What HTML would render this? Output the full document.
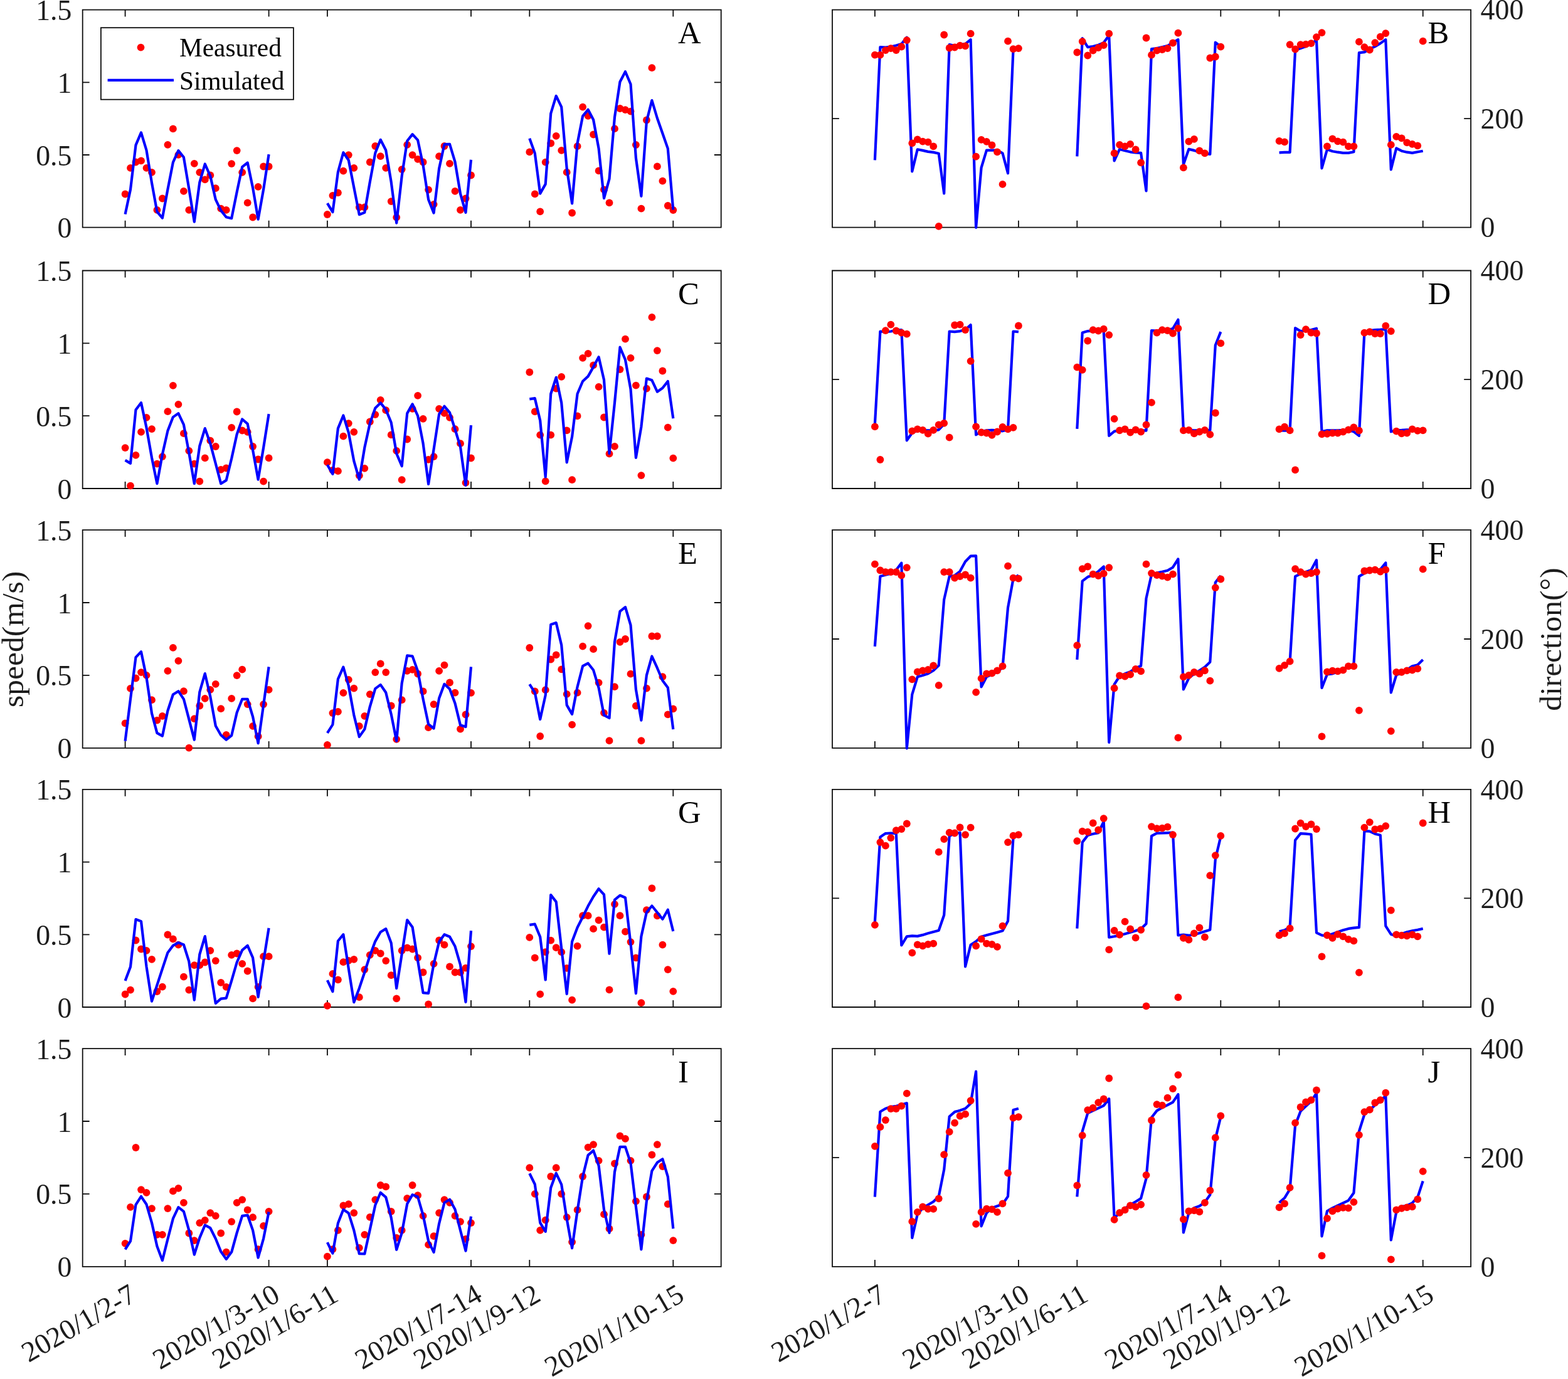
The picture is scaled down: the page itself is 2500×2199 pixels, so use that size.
<!DOCTYPE html>
<html lang="en"><head><meta charset="utf-8"><title>Measured vs simulated speed and direction</title>
<style>html,body{margin:0;padding:0;background:#fff}body{width:2500px;height:2199px;overflow:hidden}svg{display:block}text{font-family:'Liberation Serif','DejaVu Serif',serif;fill:#1c1c1c}.tl{font-size:45.8px}.lab{font-size:49.5px}.let{font-size:50.7px;fill:#000}.leg{font-size:41.3px;fill:#000}.ax{fill:none;stroke:#0d0d0d;stroke-width:1.8}.ln{fill:none;stroke:#0000ff;stroke-width:4.2;stroke-linejoin:round;stroke-linecap:butt}.dt{fill:#ff0000}</style></head><body>
<svg xmlns="http://www.w3.org/2000/svg" width="2500" height="2199" viewBox="0 0 2500 2199">
<rect width="2500" height="2199" fill="#fff"/>
<g id="panel-A"><path class="ax" d="M131.7 15.7H1149.7V362.7H131.7ZM199.6 362.7v-10.9M199.6 15.7v10.9M428.6 362.7v-10.9M428.6 15.7v10.9M521.9 362.7v-10.9M521.9 15.7v10.9M751 362.7v-10.9M751 15.7v10.9M844.3 362.7v-10.9M844.3 15.7v10.9M1073.3 362.7v-10.9M1073.3 15.7v10.9M131.7 247h10.9M1149.7 247h-10.9M131.7 131.3h10.9M1149.7 131.3h-10.9"/><g class="dt"><circle cx="199.6" cy="309.5" r="5.9"/><circle cx="208" cy="267.9" r="5.9"/><circle cx="216.5" cy="258.5" r="5.9"/><circle cx="225" cy="256.4" r="5.9"/><circle cx="233.5" cy="267.9" r="5.9"/><circle cx="242" cy="274.8" r="5.9"/><circle cx="250.4" cy="334.9" r="5.9"/><circle cx="258.9" cy="316.5" r="5.9"/><circle cx="267.4" cy="230.8" r="5.9"/><circle cx="275.9" cy="205.4" r="5.9"/><circle cx="284.4" cy="246.8" r="5.9"/><circle cx="292.9" cy="304.9" r="5.9"/><circle cx="301.3" cy="334.9" r="5.9"/><circle cx="309.8" cy="260.8" r="5.9"/><circle cx="318.3" cy="274.8" r="5.9"/><circle cx="326.8" cy="286.4" r="5.9"/><circle cx="335.3" cy="279.5" r="5.9"/><circle cx="343.8" cy="300.2" r="5.9"/><circle cx="352.2" cy="332.6" r="5.9"/><circle cx="360.7" cy="334.9" r="5.9"/><circle cx="369.2" cy="261.1" r="5.9"/><circle cx="377.7" cy="240.1" r="5.9"/><circle cx="386.2" cy="274.8" r="5.9"/><circle cx="394.7" cy="323.3" r="5.9"/><circle cx="403.1" cy="346.5" r="5.9"/><circle cx="411.6" cy="297.9" r="5.9"/><circle cx="420.1" cy="265.5" r="5.9"/><circle cx="428.6" cy="265.5" r="5.9"/><circle cx="521.9" cy="342" r="5.9"/><circle cx="530.4" cy="311.8" r="5.9"/><circle cx="538.9" cy="307.3" r="5.9"/><circle cx="547.4" cy="272.6" r="5.9"/><circle cx="555.8" cy="247.1" r="5.9"/><circle cx="564.3" cy="267.9" r="5.9"/><circle cx="572.8" cy="330.5" r="5.9"/><circle cx="581.3" cy="330.5" r="5.9"/><circle cx="589.8" cy="258.5" r="5.9"/><circle cx="598.3" cy="233" r="5.9"/><circle cx="606.7" cy="249.2" r="5.9"/><circle cx="615.2" cy="267.9" r="5.9"/><circle cx="623.7" cy="321.1" r="5.9"/><circle cx="632.2" cy="346.6" r="5.9"/><circle cx="640.7" cy="270.1" r="5.9"/><circle cx="649.2" cy="230.8" r="5.9"/><circle cx="657.6" cy="247.1" r="5.9"/><circle cx="666.1" cy="253.9" r="5.9"/><circle cx="674.6" cy="258.5" r="5.9"/><circle cx="683.1" cy="302.6" r="5.9"/><circle cx="691.6" cy="325.8" r="5.9"/><circle cx="700.1" cy="249.2" r="5.9"/><circle cx="708.5" cy="233" r="5.9"/><circle cx="717" cy="260.8" r="5.9"/><circle cx="725.5" cy="304.9" r="5.9"/><circle cx="734" cy="334.9" r="5.9"/><circle cx="742.5" cy="316.5" r="5.9"/><circle cx="751" cy="279.5" r="5.9"/><circle cx="844.3" cy="242.4" r="5.9"/><circle cx="852.8" cy="309.4" r="5.9"/><circle cx="861.2" cy="337.3" r="5.9"/><circle cx="869.7" cy="258.6" r="5.9"/><circle cx="878.2" cy="228.5" r="5.9"/><circle cx="886.7" cy="216.8" r="5.9"/><circle cx="895.2" cy="239.9" r="5.9"/><circle cx="903.7" cy="274.7" r="5.9"/><circle cx="912.1" cy="339.5" r="5.9"/><circle cx="920.6" cy="233.2" r="5.9"/><circle cx="929.1" cy="170.6" r="5.9"/><circle cx="937.6" cy="184.8" r="5.9"/><circle cx="946.1" cy="214.5" r="5.9"/><circle cx="954.6" cy="272.4" r="5.9"/><circle cx="963" cy="302.4" r="5.9"/><circle cx="971.5" cy="323.3" r="5.9"/><circle cx="980" cy="205.2" r="5.9"/><circle cx="988.5" cy="173" r="5.9"/><circle cx="997" cy="175.1" r="5.9"/><circle cx="1005.5" cy="177.6" r="5.9"/><circle cx="1013.9" cy="231" r="5.9"/><circle cx="1022.4" cy="332.6" r="5.9"/><circle cx="1030.9" cy="191.5" r="5.9"/><circle cx="1039.4" cy="108.2" r="5.9"/><circle cx="1047.9" cy="265.4" r="5.9"/><circle cx="1056.4" cy="288.6" r="5.9"/><circle cx="1064.8" cy="328" r="5.9"/><circle cx="1073.3" cy="335" r="5.9"/></g><polyline class="ln" points="199.6,341.6 208,302.2 216.5,231.4 225,211.4 233.5,239.5 242,291.5 250.4,337.6 258.9,347.6 267.4,302.2 275.9,258.8 284.4,240.1 292.9,250.8 301.3,300.8 309.8,353.6 318.3,290.8 326.8,261.5 335.3,280.8 343.8,318.2 352.2,335.6 360.7,346.2 369.2,348.2 377.7,306.2 386.2,266.1 394.7,259.5 403.1,299.5 411.6,349.6 420.1,302.2 428.6,246.1"/><polyline class="ln" points="521.9,324.2 530.4,338.2 538.9,274.2 547.4,243.2 555.8,255.5 564.3,298.8 572.8,342.2 581.3,338.9 589.8,290.2 598.3,244.1 606.7,222.8 615.2,239.5 623.7,290.2 632.2,355.6 640.7,280.8 649.2,224.8 657.6,214.1 666.1,223.4 674.6,263.5 683.1,318.2 691.6,339.6 700.1,268.8 708.5,230.1 717,229.8 725.5,258.1 734,308.9 742.5,338.9 751,254.8"/><polyline class="ln" points="844.3,220.7 852.8,244.4 861.2,308.6 869.7,293.6 878.2,181 886.7,152.9 895.2,170.6 903.7,268.6 912.1,324.5 920.6,228.5 929.1,185.1 937.6,174.8 946.1,191 954.6,236.9 963,316.1 971.5,285.3 980,186.8 988.5,130.4 997,114.2 1005.5,134.2 1013.9,251.9 1022.4,312.8 1030.9,193.5 1039.4,160.1 1047.9,188.5 1056.4,212.7 1064.8,236.9 1073.3,334.5"/><text class="tl" x="114.4" y="379.2" text-anchor="end">0</text><text class="tl" x="114.4" y="263.5" text-anchor="end">0.5</text><text class="tl" x="114.4" y="147.8" text-anchor="end">1</text><text class="tl" x="114.4" y="32.1" text-anchor="end">1.5</text><text class="let" x="1081.1" y="69.2">A</text></g>
<g id="panel-B"><path class="ax" d="M1327 15.7H2345.1V362.7H1327ZM1394.9 362.7v-10.9M1394.9 15.7v10.9M1623.9 362.7v-10.9M1623.9 15.7v10.9M1717.3 362.7v-10.9M1717.3 15.7v10.9M1946.3 362.7v-10.9M1946.3 15.7v10.9M2039.6 362.7v-10.9M2039.6 15.7v10.9M2268.7 362.7v-10.9M2268.7 15.7v10.9M1327 189.2h10.9M2345.1 189.2h-10.9"/><polyline class="ln" points="1394.9,255.3 1403.4,75.1 1411.9,75.7 1420.3,74.5 1428.8,72.5 1437.3,70.1 1445.8,59.7 1454.3,273.3 1462.8,238.3 1471.2,239.9 1479.7,241.9 1488.2,242.9 1496.7,244.7 1505.2,308.4 1513.7,71.1 1522.1,73.1 1530.6,71.1 1539.1,70.1 1547.6,63.1 1556.1,362.8 1564.6,267.3 1573,239.7 1581.5,239.7 1590,239.7 1598.5,244.3 1607,276.3 1615.5,79.1 1623.9,77.1"/><polyline class="ln" points="1717.3,249.3 1725.7,61.1 1734.2,75.1 1742.7,74.1 1751.2,71.7 1759.7,68.1 1768.2,56.5 1776.6,256.3 1785.1,237.9 1793.6,240.3 1802.1,242.3 1810.6,243.3 1819.1,243.9 1827.5,304.4 1836,78.1 1844.5,77.1 1853,75.1 1861.5,73.1 1870,68.1 1878.4,63.1 1886.9,262.3 1895.4,237.9 1903.9,239.9 1912.4,242.3 1920.9,244.7 1929.3,245.9 1937.8,67.7 1946.3,74.1"/><polyline class="ln" points="2039.6,243.3 2048.1,242.9 2056.6,242.9 2065.1,80.1 2073.6,77.1 2082,74.1 2090.5,70.1 2099,63.7 2107.5,268.3 2116,238.3 2124.5,241.3 2132.9,242.7 2141.4,243.9 2149.9,243.9 2158.4,242.3 2166.9,84.1 2175.4,83.1 2183.8,78.1 2192.3,74.1 2200.8,69.1 2209.3,63.1 2217.8,270.3 2226.3,236.3 2234.7,240.7 2243.2,242.7 2251.7,243.9 2260.2,242.3 2268.7,240.7"/><g class="dt"><circle cx="1394.9" cy="87.7" r="5.9"/><circle cx="1403.4" cy="87.7" r="5.9"/><circle cx="1411.9" cy="80.1" r="5.9"/><circle cx="1420.3" cy="77.1" r="5.9"/><circle cx="1428.8" cy="80.1" r="5.9"/><circle cx="1437.3" cy="74.5" r="5.9"/><circle cx="1445.8" cy="64.1" r="5.9"/><circle cx="1454.3" cy="228.3" r="5.9"/><circle cx="1462.8" cy="222.3" r="5.9"/><circle cx="1471.2" cy="225.7" r="5.9"/><circle cx="1479.7" cy="226.7" r="5.9"/><circle cx="1488.2" cy="233.3" r="5.9"/><circle cx="1496.7" cy="360.8" r="5.9"/><circle cx="1505.2" cy="55.5" r="5.9"/><circle cx="1513.7" cy="76.5" r="5.9"/><circle cx="1522.1" cy="75.5" r="5.9"/><circle cx="1530.6" cy="72.7" r="5.9"/><circle cx="1539.1" cy="73.3" r="5.9"/><circle cx="1547.6" cy="53.7" r="5.9"/><circle cx="1556.1" cy="249.7" r="5.9"/><circle cx="1564.6" cy="222.9" r="5.9"/><circle cx="1573" cy="225.9" r="5.9"/><circle cx="1581.5" cy="231.5" r="5.9"/><circle cx="1590" cy="242.3" r="5.9"/><circle cx="1598.5" cy="293.9" r="5.9"/><circle cx="1607" cy="65.7" r="5.9"/><circle cx="1615.5" cy="78.1" r="5.9"/><circle cx="1623.9" cy="77.1" r="5.9"/><circle cx="1717.3" cy="83.5" r="5.9"/><circle cx="1725.7" cy="66.1" r="5.9"/><circle cx="1734.2" cy="88.5" r="5.9"/><circle cx="1742.7" cy="80.5" r="5.9"/><circle cx="1751.2" cy="76.1" r="5.9"/><circle cx="1759.7" cy="72.1" r="5.9"/><circle cx="1768.2" cy="53.7" r="5.9"/><circle cx="1776.6" cy="244.3" r="5.9"/><circle cx="1785.1" cy="230.9" r="5.9"/><circle cx="1793.6" cy="233.3" r="5.9"/><circle cx="1802.1" cy="229.9" r="5.9"/><circle cx="1810.6" cy="238.3" r="5.9"/><circle cx="1819.1" cy="259.3" r="5.9"/><circle cx="1827.5" cy="60.5" r="5.9"/><circle cx="1836" cy="87.7" r="5.9"/><circle cx="1844.5" cy="80.7" r="5.9"/><circle cx="1853" cy="79.1" r="5.9"/><circle cx="1861.5" cy="77.1" r="5.9"/><circle cx="1870" cy="68.5" r="5.9"/><circle cx="1878.4" cy="52.7" r="5.9"/><circle cx="1886.9" cy="267.3" r="5.9"/><circle cx="1895.4" cy="225.7" r="5.9"/><circle cx="1903.9" cy="221.9" r="5.9"/><circle cx="1912.4" cy="240.3" r="5.9"/><circle cx="1920.9" cy="244.3" r="5.9"/><circle cx="1929.3" cy="92.5" r="5.9"/><circle cx="1937.8" cy="90.5" r="5.9"/><circle cx="1946.3" cy="74.7" r="5.9"/><circle cx="2039.6" cy="224.9" r="5.9"/><circle cx="2048.1" cy="226.3" r="5.9"/><circle cx="2056.6" cy="71.1" r="5.9"/><circle cx="2065.1" cy="78.5" r="5.9"/><circle cx="2073.6" cy="71.1" r="5.9"/><circle cx="2082" cy="70.7" r="5.9"/><circle cx="2090.5" cy="69.1" r="5.9"/><circle cx="2099" cy="59.1" r="5.9"/><circle cx="2107.5" cy="52.1" r="5.9"/><circle cx="2116" cy="233.3" r="5.9"/><circle cx="2124.5" cy="221.3" r="5.9"/><circle cx="2132.9" cy="225.3" r="5.9"/><circle cx="2141.4" cy="226.7" r="5.9"/><circle cx="2149.9" cy="233.3" r="5.9"/><circle cx="2158.4" cy="233.3" r="5.9"/><circle cx="2166.9" cy="66.7" r="5.9"/><circle cx="2175.4" cy="75.1" r="5.9"/><circle cx="2183.8" cy="79.5" r="5.9"/><circle cx="2192.3" cy="68.1" r="5.9"/><circle cx="2200.8" cy="58.7" r="5.9"/><circle cx="2209.3" cy="53.1" r="5.9"/><circle cx="2217.8" cy="230.9" r="5.9"/><circle cx="2226.3" cy="217.8" r="5.9"/><circle cx="2234.7" cy="220.3" r="5.9"/><circle cx="2243.2" cy="227.3" r="5.9"/><circle cx="2251.7" cy="229.9" r="5.9"/><circle cx="2260.2" cy="232.3" r="5.9"/><circle cx="2268.7" cy="65.7" r="5.9"/></g><text class="tl" x="2360.6" y="378.4">0</text><text class="tl" x="2360.6" y="204.9">200</text><text class="tl" x="2360.6" y="31.3">400</text><text class="let" x="2276.4" y="69.2">B</text></g>
<g id="panel-C"><path class="ax" d="M131.7 431.5H1149.7V779H131.7ZM199.6 779v-10.9M199.6 431.5v10.9M428.6 779v-10.9M428.6 431.5v10.9M521.9 779v-10.9M521.9 431.5v10.9M751 779v-10.9M751 431.5v10.9M844.3 779v-10.9M844.3 431.5v10.9M1073.3 779v-10.9M1073.3 431.5v10.9M131.7 663.2h10.9M1149.7 663.2h-10.9M131.7 547.3h10.9M1149.7 547.3h-10.9"/><g class="dt"><circle cx="199.6" cy="714.1" r="5.9"/><circle cx="208" cy="774.6" r="5.9"/><circle cx="216.5" cy="725.9" r="5.9"/><circle cx="225" cy="688.9" r="5.9"/><circle cx="233.5" cy="665.8" r="5.9"/><circle cx="242" cy="684.1" r="5.9"/><circle cx="250.4" cy="739.6" r="5.9"/><circle cx="258.9" cy="728.1" r="5.9"/><circle cx="267.4" cy="656.2" r="5.9"/><circle cx="275.9" cy="614.8" r="5.9"/><circle cx="284.4" cy="644.8" r="5.9"/><circle cx="292.9" cy="691.2" r="5.9"/><circle cx="301.3" cy="718.9" r="5.9"/><circle cx="309.8" cy="739.6" r="5.9"/><circle cx="318.3" cy="767.6" r="5.9"/><circle cx="326.8" cy="730.4" r="5.9"/><circle cx="335.3" cy="702.6" r="5.9"/><circle cx="343.8" cy="712" r="5.9"/><circle cx="352.2" cy="748.9" r="5.9"/><circle cx="360.7" cy="746.5" r="5.9"/><circle cx="369.2" cy="681.9" r="5.9"/><circle cx="377.7" cy="656.5" r="5.9"/><circle cx="386.2" cy="686.5" r="5.9"/><circle cx="394.7" cy="688.9" r="5.9"/><circle cx="403.1" cy="712" r="5.9"/><circle cx="411.6" cy="732.5" r="5.9"/><circle cx="420.1" cy="767.6" r="5.9"/><circle cx="428.6" cy="730.4" r="5.9"/><circle cx="521.9" cy="737.2" r="5.9"/><circle cx="530.4" cy="749.9" r="5.9"/><circle cx="538.9" cy="751.2" r="5.9"/><circle cx="547.4" cy="695.6" r="5.9"/><circle cx="555.8" cy="675.1" r="5.9"/><circle cx="564.3" cy="688.8" r="5.9"/><circle cx="572.8" cy="758.3" r="5.9"/><circle cx="581.3" cy="746.8" r="5.9"/><circle cx="589.8" cy="672.5" r="5.9"/><circle cx="598.3" cy="661.1" r="5.9"/><circle cx="606.7" cy="637.8" r="5.9"/><circle cx="615.2" cy="654.2" r="5.9"/><circle cx="623.7" cy="693.4" r="5.9"/><circle cx="632.2" cy="718.9" r="5.9"/><circle cx="640.7" cy="765.2" r="5.9"/><circle cx="649.2" cy="700.5" r="5.9"/><circle cx="657.6" cy="651.8" r="5.9"/><circle cx="666.1" cy="630.8" r="5.9"/><circle cx="674.6" cy="667.8" r="5.9"/><circle cx="683.1" cy="732.8" r="5.9"/><circle cx="691.6" cy="728.1" r="5.9"/><circle cx="700.1" cy="651.8" r="5.9"/><circle cx="708.5" cy="658.9" r="5.9"/><circle cx="717" cy="665.8" r="5.9"/><circle cx="725.5" cy="684.2" r="5.9"/><circle cx="734" cy="707.2" r="5.9"/><circle cx="742.5" cy="769.9" r="5.9"/><circle cx="751" cy="730.5" r="5.9"/><circle cx="844.3" cy="593.5" r="5.9"/><circle cx="852.8" cy="656.4" r="5.9"/><circle cx="861.2" cy="693.6" r="5.9"/><circle cx="869.7" cy="767.3" r="5.9"/><circle cx="878.2" cy="693.6" r="5.9"/><circle cx="886.7" cy="619.7" r="5.9"/><circle cx="895.2" cy="600.8" r="5.9"/><circle cx="903.7" cy="686.4" r="5.9"/><circle cx="912.1" cy="765.2" r="5.9"/><circle cx="920.6" cy="663.4" r="5.9"/><circle cx="929.1" cy="570.8" r="5.9"/><circle cx="937.6" cy="563.8" r="5.9"/><circle cx="946.1" cy="582.4" r="5.9"/><circle cx="954.6" cy="616.8" r="5.9"/><circle cx="963" cy="665.5" r="5.9"/><circle cx="971.5" cy="723.6" r="5.9"/><circle cx="980" cy="711.9" r="5.9"/><circle cx="988.5" cy="589.1" r="5.9"/><circle cx="997" cy="540.6" r="5.9"/><circle cx="1005.5" cy="570.8" r="5.9"/><circle cx="1013.9" cy="614.6" r="5.9"/><circle cx="1022.4" cy="758.1" r="5.9"/><circle cx="1030.9" cy="619.7" r="5.9"/><circle cx="1039.4" cy="505.9" r="5.9"/><circle cx="1047.9" cy="559.1" r="5.9"/><circle cx="1056.4" cy="591.5" r="5.9"/><circle cx="1064.8" cy="681.7" r="5.9"/><circle cx="1073.3" cy="730.6" r="5.9"/></g><polyline class="ln" points="199.6,733.9 208,738.9 216.5,653.5 225,642.2 233.5,681.8 242,729.9 250.4,771.2 258.9,724.5 267.4,687.1 275.9,665.1 284.4,659.1 292.9,677.1 301.3,721.9 309.8,771.2 318.3,711.2 326.8,683.1 335.3,707.2 343.8,739.2 352.2,771.2 360.7,765.9 369.2,731.2 377.7,692.5 386.2,668.5 394.7,675.8 403.1,717.8 411.6,764.6 420.1,713.8 428.6,660.2"/><polyline class="ln" points="521.9,741.2 530.4,755.9 538.9,683.1 547.4,662.5 555.8,689.8 564.3,735.2 572.8,764.6 581.3,713.8 589.8,675.1 598.3,650.8 606.7,642.4 615.2,653.1 623.7,673.8 632.2,723.2 640.7,743.2 649.2,659.1 657.6,644.4 666.1,663.1 674.6,707.2 683.1,771.9 691.6,716.2 700.1,660.5 708.5,647.8 717,657.8 725.5,684.5 734,712.5 742.5,773.9 751,678.1"/><polyline class="ln" points="844.3,636.3 852.8,635.2 861.2,670.5 869.7,760.7 878.2,628 886.7,601.8 895.2,642.2 903.7,737.3 912.1,696.4 920.6,628 929.1,608 937.6,600.1 946.1,585.1 954.6,569.3 963,605.8 971.5,723.1 980,642.2 988.5,553.7 997,573.8 1005.5,620.5 1013.9,729.8 1022.4,680.6 1030.9,603.5 1039.4,606.3 1047.9,624.7 1056.4,618.8 1064.8,608 1073.3,667.2"/><text class="tl" x="114.4" y="795.5" text-anchor="end">0</text><text class="tl" x="114.4" y="679.7" text-anchor="end">0.5</text><text class="tl" x="114.4" y="563.8" text-anchor="end">1</text><text class="tl" x="114.4" y="448" text-anchor="end">1.5</text><text class="let" x="1081.1" y="485">C</text></g>
<g id="panel-D"><path class="ax" d="M1327 431.5H2345.1V779H1327ZM1394.9 779v-10.9M1394.9 431.5v10.9M1623.9 779v-10.9M1623.9 431.5v10.9M1717.3 779v-10.9M1717.3 431.5v10.9M1946.3 779v-10.9M1946.3 431.5v10.9M2039.6 779v-10.9M2039.6 431.5v10.9M2268.7 779v-10.9M2268.7 431.5v10.9M1327 605.2h10.9M2345.1 605.2h-10.9"/><polyline class="ln" points="1394.9,676.3 1403.4,528.5 1411.9,529.1 1420.3,528.5 1428.8,526.5 1437.3,526.1 1445.8,702.3 1454.3,690.3 1462.8,686.3 1471.2,686.3 1479.7,686.3 1488.2,686.3 1496.7,685.3 1505.2,676.3 1513.7,528.5 1522.1,529.1 1530.6,528.1 1539.1,525.7 1547.6,518.1 1556.1,693.3 1564.6,688.3 1573,686.3 1581.5,685.9 1590,686.3 1598.5,687.3 1607,685.3 1615.5,528.5 1623.9,529.1"/><polyline class="ln" points="1717.3,683.9 1725.7,530.5 1734.2,528.1 1742.7,527.1 1751.2,526.1 1759.7,527.7 1768.2,694.9 1776.6,687.9 1785.1,685.9 1793.6,686.3 1802.1,686.3 1810.6,686.3 1819.1,686.3 1827.5,686.7 1836,527.1 1844.5,527.7 1853,526.1 1861.5,526.1 1870,524.1 1878.4,509.7 1886.9,685.9 1895.4,685.9 1903.9,686.3 1912.4,686.3 1920.9,685.9 1929.3,686.3 1937.8,550.5 1946.3,529.1"/><polyline class="ln" points="2039.6,686.3 2048.1,686.7 2056.6,686.3 2065.1,523.1 2073.6,528.1 2082,527.1 2090.5,526.1 2099,523.7 2107.5,688.3 2116,686.3 2124.5,686.3 2132.9,686.3 2141.4,685.9 2149.9,686.3 2158.4,688.3 2166.9,694.9 2175.4,530.1 2183.8,527.1 2192.3,526.1 2200.8,525.7 2209.3,525.1 2217.8,688.3 2226.3,686.3 2234.7,685.9 2243.2,685.3 2251.7,685.9 2260.2,686.3 2268.7,686.3"/><g class="dt"><circle cx="1394.9" cy="680.3" r="5.9"/><circle cx="1403.4" cy="733" r="5.9"/><circle cx="1411.9" cy="527.1" r="5.9"/><circle cx="1420.3" cy="517.7" r="5.9"/><circle cx="1428.8" cy="527.5" r="5.9"/><circle cx="1437.3" cy="530.7" r="5.9"/><circle cx="1445.8" cy="532.7" r="5.9"/><circle cx="1454.3" cy="687.3" r="5.9"/><circle cx="1462.8" cy="684.3" r="5.9"/><circle cx="1471.2" cy="685.9" r="5.9"/><circle cx="1479.7" cy="691.7" r="5.9"/><circle cx="1488.2" cy="685.9" r="5.9"/><circle cx="1496.7" cy="677.3" r="5.9"/><circle cx="1505.2" cy="674.9" r="5.9"/><circle cx="1513.7" cy="697.7" r="5.9"/><circle cx="1522.1" cy="518.5" r="5.9"/><circle cx="1530.6" cy="517.7" r="5.9"/><circle cx="1539.1" cy="526.1" r="5.9"/><circle cx="1547.6" cy="575.8" r="5.9"/><circle cx="1556.1" cy="680.3" r="5.9"/><circle cx="1564.6" cy="689.5" r="5.9"/><circle cx="1573" cy="690.5" r="5.9"/><circle cx="1581.5" cy="693.9" r="5.9"/><circle cx="1590" cy="688.5" r="5.9"/><circle cx="1598.5" cy="680.9" r="5.9"/><circle cx="1607" cy="684.3" r="5.9"/><circle cx="1615.5" cy="681.9" r="5.9"/><circle cx="1623.9" cy="519.5" r="5.9"/><circle cx="1717.3" cy="585.6" r="5.9"/><circle cx="1725.7" cy="589.8" r="5.9"/><circle cx="1734.2" cy="543.5" r="5.9"/><circle cx="1742.7" cy="526.1" r="5.9"/><circle cx="1751.2" cy="527.5" r="5.9"/><circle cx="1759.7" cy="524.7" r="5.9"/><circle cx="1768.2" cy="534.1" r="5.9"/><circle cx="1776.6" cy="667.9" r="5.9"/><circle cx="1785.1" cy="686.3" r="5.9"/><circle cx="1793.6" cy="684.3" r="5.9"/><circle cx="1802.1" cy="689.7" r="5.9"/><circle cx="1810.6" cy="685.3" r="5.9"/><circle cx="1819.1" cy="688.7" r="5.9"/><circle cx="1827.5" cy="677.3" r="5.9"/><circle cx="1836" cy="641.9" r="5.9"/><circle cx="1844.5" cy="530.7" r="5.9"/><circle cx="1853" cy="526.1" r="5.9"/><circle cx="1861.5" cy="527.1" r="5.9"/><circle cx="1870" cy="531.5" r="5.9"/><circle cx="1878.4" cy="523.7" r="5.9"/><circle cx="1886.9" cy="686.3" r="5.9"/><circle cx="1895.4" cy="685.9" r="5.9"/><circle cx="1903.9" cy="691.3" r="5.9"/><circle cx="1912.4" cy="688.5" r="5.9"/><circle cx="1920.9" cy="685.9" r="5.9"/><circle cx="1929.3" cy="692.9" r="5.9"/><circle cx="1937.8" cy="658.5" r="5.9"/><circle cx="1946.3" cy="547.3" r="5.9"/><circle cx="2039.6" cy="684.3" r="5.9"/><circle cx="2048.1" cy="680.7" r="5.9"/><circle cx="2056.6" cy="686.3" r="5.9"/><circle cx="2065.1" cy="749.4" r="5.9"/><circle cx="2073.6" cy="534.1" r="5.9"/><circle cx="2082" cy="525.1" r="5.9"/><circle cx="2090.5" cy="530.7" r="5.9"/><circle cx="2099" cy="531.5" r="5.9"/><circle cx="2107.5" cy="692.3" r="5.9"/><circle cx="2116" cy="691.9" r="5.9"/><circle cx="2124.5" cy="690.7" r="5.9"/><circle cx="2132.9" cy="690.7" r="5.9"/><circle cx="2141.4" cy="688.7" r="5.9"/><circle cx="2149.9" cy="685.3" r="5.9"/><circle cx="2158.4" cy="681.3" r="5.9"/><circle cx="2166.9" cy="686.7" r="5.9"/><circle cx="2175.4" cy="530.7" r="5.9"/><circle cx="2183.8" cy="529.1" r="5.9"/><circle cx="2192.3" cy="532.1" r="5.9"/><circle cx="2200.8" cy="532.1" r="5.9"/><circle cx="2209.3" cy="519.7" r="5.9"/><circle cx="2217.8" cy="528.1" r="5.9"/><circle cx="2226.3" cy="687.7" r="5.9"/><circle cx="2234.7" cy="691.3" r="5.9"/><circle cx="2243.2" cy="690.7" r="5.9"/><circle cx="2251.7" cy="684.3" r="5.9"/><circle cx="2260.2" cy="686.9" r="5.9"/><circle cx="2268.7" cy="686.3" r="5.9"/></g><text class="tl" x="2360.6" y="794.7">0</text><text class="tl" x="2360.6" y="621">200</text><text class="tl" x="2360.6" y="447.2">400</text><text class="let" x="2276.4" y="485">D</text></g>
<g id="panel-E"><path class="ax" d="M131.7 845.1H1149.7V1192.8H131.7ZM199.6 1192.8v-10.9M199.6 845.1v10.9M428.6 1192.8v-10.9M428.6 845.1v10.9M521.9 1192.8v-10.9M521.9 845.1v10.9M751 1192.8v-10.9M751 845.1v10.9M844.3 1192.8v-10.9M844.3 845.1v10.9M1073.3 1192.8v-10.9M1073.3 845.1v10.9M131.7 1076.9h10.9M1149.7 1076.9h-10.9M131.7 961h10.9M1149.7 961h-10.9"/><g class="dt"><circle cx="199.6" cy="1153.3" r="5.9"/><circle cx="208" cy="1097.9" r="5.9"/><circle cx="216.5" cy="1081.5" r="5.9"/><circle cx="225" cy="1072.1" r="5.9"/><circle cx="233.5" cy="1076.8" r="5.9"/><circle cx="242" cy="1116.2" r="5.9"/><circle cx="250.4" cy="1148.6" r="5.9"/><circle cx="258.9" cy="1141.8" r="5.9"/><circle cx="267.4" cy="1069.9" r="5.9"/><circle cx="275.9" cy="1032.9" r="5.9"/><circle cx="284.4" cy="1053.8" r="5.9"/><circle cx="292.9" cy="1102.2" r="5.9"/><circle cx="301.3" cy="1192.6" r="5.9"/><circle cx="309.8" cy="1146.2" r="5.9"/><circle cx="318.3" cy="1125.5" r="5.9"/><circle cx="326.8" cy="1113.9" r="5.9"/><circle cx="335.3" cy="1099.9" r="5.9"/><circle cx="343.8" cy="1090.8" r="5.9"/><circle cx="352.2" cy="1130.2" r="5.9"/><circle cx="360.7" cy="1172" r="5.9"/><circle cx="369.2" cy="1113.9" r="5.9"/><circle cx="377.7" cy="1077.1" r="5.9"/><circle cx="386.2" cy="1067.7" r="5.9"/><circle cx="394.7" cy="1123.1" r="5.9"/><circle cx="403.1" cy="1157.9" r="5.9"/><circle cx="411.6" cy="1174.2" r="5.9"/><circle cx="420.1" cy="1123.1" r="5.9"/><circle cx="428.6" cy="1099.9" r="5.9"/><circle cx="521.9" cy="1188" r="5.9"/><circle cx="530.4" cy="1137.1" r="5.9"/><circle cx="538.9" cy="1134.9" r="5.9"/><circle cx="547.4" cy="1104.8" r="5.9"/><circle cx="555.8" cy="1083.9" r="5.9"/><circle cx="564.3" cy="1097.7" r="5.9"/><circle cx="572.8" cy="1157.9" r="5.9"/><circle cx="581.3" cy="1141.8" r="5.9"/><circle cx="589.8" cy="1107.1" r="5.9"/><circle cx="598.3" cy="1072.1" r="5.9"/><circle cx="606.7" cy="1058.4" r="5.9"/><circle cx="615.2" cy="1072.1" r="5.9"/><circle cx="623.7" cy="1125.5" r="5.9"/><circle cx="632.2" cy="1178.9" r="5.9"/><circle cx="640.7" cy="1116.2" r="5.9"/><circle cx="649.2" cy="1069.9" r="5.9"/><circle cx="657.6" cy="1067.8" r="5.9"/><circle cx="666.1" cy="1074.5" r="5.9"/><circle cx="674.6" cy="1102.4" r="5.9"/><circle cx="683.1" cy="1160.2" r="5.9"/><circle cx="691.6" cy="1123.1" r="5.9"/><circle cx="700.1" cy="1069.9" r="5.9"/><circle cx="708.5" cy="1060.6" r="5.9"/><circle cx="717" cy="1088.5" r="5.9"/><circle cx="725.5" cy="1104.6" r="5.9"/><circle cx="734" cy="1162.6" r="5.9"/><circle cx="742.5" cy="1139.5" r="5.9"/><circle cx="751" cy="1104.8" r="5.9"/><circle cx="844.3" cy="1033" r="5.9"/><circle cx="852.8" cy="1102.4" r="5.9"/><circle cx="861.2" cy="1174" r="5.9"/><circle cx="869.7" cy="1100.2" r="5.9"/><circle cx="878.2" cy="1051.5" r="5.9"/><circle cx="886.7" cy="1044.3" r="5.9"/><circle cx="895.2" cy="1067.4" r="5.9"/><circle cx="903.7" cy="1106.9" r="5.9"/><circle cx="912.1" cy="1155.6" r="5.9"/><circle cx="920.6" cy="1104.7" r="5.9"/><circle cx="929.1" cy="1030.7" r="5.9"/><circle cx="937.6" cy="998.1" r="5.9"/><circle cx="946.1" cy="1035.2" r="5.9"/><circle cx="954.6" cy="1088.6" r="5.9"/><circle cx="963" cy="1136.9" r="5.9"/><circle cx="971.5" cy="1181.2" r="5.9"/><circle cx="980" cy="1095.2" r="5.9"/><circle cx="988.5" cy="1023.8" r="5.9"/><circle cx="997" cy="1019" r="5.9"/><circle cx="1005.5" cy="1074.7" r="5.9"/><circle cx="1013.9" cy="1125.6" r="5.9"/><circle cx="1022.4" cy="1181.2" r="5.9"/><circle cx="1030.9" cy="1097.7" r="5.9"/><circle cx="1039.4" cy="1014.5" r="5.9"/><circle cx="1047.9" cy="1014.5" r="5.9"/><circle cx="1056.4" cy="1079.2" r="5.9"/><circle cx="1064.8" cy="1139.4" r="5.9"/><circle cx="1073.3" cy="1130.3" r="5.9"/></g><polyline class="ln" points="199.6,1181.8 208,1114.8 216.5,1048.1 225,1039.2 233.5,1080.1 242,1137.5 250.4,1168.9 258.9,1173.6 267.4,1133.5 275.9,1107.5 284.4,1102.2 292.9,1114.8 301.3,1146.9 309.8,1179.6 318.3,1103.5 326.8,1074.1 335.3,1110.8 343.8,1157.5 352.2,1172.2 360.7,1179.6 369.2,1172.9 377.7,1136.2 386.2,1114.8 394.7,1114.8 403.1,1142.9 411.6,1185.2 420.1,1124.3 428.6,1063.4"/><polyline class="ln" points="521.9,1168.9 530.4,1155.5 538.9,1082.8 547.4,1063.7 555.8,1093.5 564.3,1140.2 572.8,1174.9 581.3,1162.9 589.8,1126.8 598.3,1098.1 606.7,1091.9 615.2,1104.2 623.7,1138.9 632.2,1181.6 640.7,1089.5 649.2,1045.4 657.6,1046.4 666.1,1070.1 674.6,1114.8 683.1,1154.9 691.6,1161.5 700.1,1113.5 708.5,1090.8 717,1098.8 725.5,1121.5 734,1156.2 742.5,1159.1 751,1063.4"/><polyline class="ln" points="844.3,1091.1 852.8,1104.4 861.2,1147 869.7,1108.6 878.2,995.9 886.7,993.1 895.2,1028.5 903.7,1124.4 912.1,1138.9 920.6,1095.2 929.1,1062.2 937.6,1057.7 946.1,1068.5 954.6,1096.9 963,1140.3 971.5,1145 980,1023.5 988.5,974.8 997,968.1 1005.5,996.8 1013.9,1099.4 1022.4,1148.6 1030.9,1076.9 1039.4,1046.5 1047.9,1065.2 1056.4,1085.2 1064.8,1096.6 1073.3,1163.1"/><text class="tl" x="114.4" y="1209.3" text-anchor="end">0</text><text class="tl" x="114.4" y="1093.4" text-anchor="end">0.5</text><text class="tl" x="114.4" y="977.5" text-anchor="end">1</text><text class="tl" x="114.4" y="861.6" text-anchor="end">1.5</text><text class="let" x="1081.1" y="898.6">E</text></g>
<g id="panel-F"><path class="ax" d="M1327 845.1H2345.1V1192.8H1327ZM1394.9 1192.8v-10.9M1394.9 845.1v10.9M1623.9 1192.8v-10.9M1623.9 845.1v10.9M1717.3 1192.8v-10.9M1717.3 845.1v10.9M1946.3 1192.8v-10.9M1946.3 845.1v10.9M2039.6 1192.8v-10.9M2039.6 845.1v10.9M2268.7 1192.8v-10.9M2268.7 845.1v10.9M1327 1019h10.9M2345.1 1019h-10.9"/><polyline class="ln" points="1394.9,1030.8 1403.4,919.1 1411.9,916.7 1420.3,914.7 1428.8,909.1 1437.3,897.7 1445.8,1193.4 1454.3,1107.3 1462.8,1079.3 1471.2,1076.9 1479.7,1074.3 1488.2,1069.3 1496.7,1061.3 1505.2,956.1 1513.7,919.1 1522.1,917.7 1530.6,911.1 1539.1,895.5 1547.6,886.7 1556.1,886.3 1564.6,1095.3 1573,1079.3 1581.5,1075.3 1590,1071.3 1598.5,1064.3 1607,969.2 1615.5,923.1 1623.9,917.1"/><polyline class="ln" points="1717.3,1051.9 1725.7,926.7 1734.2,920.1 1742.7,917.1 1751.2,911.1 1759.7,903.5 1768.2,1183.8 1776.6,1091.3 1785.1,1078.3 1793.6,1074.3 1802.1,1071.3 1810.6,1065.3 1819.1,1061.9 1827.5,954.1 1836,916.1 1844.5,913.5 1853,911.7 1861.5,909.7 1870,904.7 1878.4,891.5 1886.9,1099.3 1895.4,1081.3 1903.9,1074.3 1912.4,1069.3 1920.9,1063.7 1929.3,1055.7 1937.8,928.7 1946.3,918.1"/><polyline class="ln" points="2039.6,1067.3 2048.1,1061.3 2056.6,1055.3 2065.1,919.1 2073.6,915.1 2082,912.1 2090.5,909.1 2099,893.1 2107.5,1096.9 2116,1075.3 2124.5,1074.3 2132.9,1071.3 2141.4,1067.3 2149.9,1062.9 2158.4,1059.3 2166.9,919.1 2175.4,914.1 2183.8,911.1 2192.3,909.1 2200.8,908.1 2209.3,897.5 2217.8,1104.3 2226.3,1076.3 2234.7,1073.3 2243.2,1068.3 2251.7,1062.3 2260.2,1060.3 2268.7,1051.9"/><g class="dt"><circle cx="1394.9" cy="899.7" r="5.9"/><circle cx="1403.4" cy="909.5" r="5.9"/><circle cx="1411.9" cy="912.1" r="5.9"/><circle cx="1420.3" cy="912.1" r="5.9"/><circle cx="1428.8" cy="912.1" r="5.9"/><circle cx="1437.3" cy="917.7" r="5.9"/><circle cx="1445.8" cy="905.1" r="5.9"/><circle cx="1454.3" cy="1083.3" r="5.9"/><circle cx="1462.8" cy="1071.3" r="5.9"/><circle cx="1471.2" cy="1069.3" r="5.9"/><circle cx="1479.7" cy="1067.9" r="5.9"/><circle cx="1488.2" cy="1061.3" r="5.9"/><circle cx="1496.7" cy="1092.9" r="5.9"/><circle cx="1505.2" cy="912.1" r="5.9"/><circle cx="1513.7" cy="912.1" r="5.9"/><circle cx="1522.1" cy="921.7" r="5.9"/><circle cx="1530.6" cy="919.1" r="5.9"/><circle cx="1539.1" cy="916.5" r="5.9"/><circle cx="1547.6" cy="921.7" r="5.9"/><circle cx="1556.1" cy="1103.9" r="5.9"/><circle cx="1564.6" cy="1081.9" r="5.9"/><circle cx="1573" cy="1074.3" r="5.9"/><circle cx="1581.5" cy="1073.7" r="5.9"/><circle cx="1590" cy="1069.3" r="5.9"/><circle cx="1598.5" cy="1062.3" r="5.9"/><circle cx="1607" cy="902.7" r="5.9"/><circle cx="1615.5" cy="921.7" r="5.9"/><circle cx="1623.9" cy="922.7" r="5.9"/><circle cx="1717.3" cy="1029.2" r="5.9"/><circle cx="1725.7" cy="907.1" r="5.9"/><circle cx="1734.2" cy="903.5" r="5.9"/><circle cx="1742.7" cy="915.7" r="5.9"/><circle cx="1751.2" cy="918.1" r="5.9"/><circle cx="1759.7" cy="914.7" r="5.9"/><circle cx="1768.2" cy="905.1" r="5.9"/><circle cx="1776.6" cy="1097.3" r="5.9"/><circle cx="1785.1" cy="1077.3" r="5.9"/><circle cx="1793.6" cy="1078.7" r="5.9"/><circle cx="1802.1" cy="1075.7" r="5.9"/><circle cx="1810.6" cy="1066.9" r="5.9"/><circle cx="1819.1" cy="1070.3" r="5.9"/><circle cx="1827.5" cy="899.7" r="5.9"/><circle cx="1836" cy="914.1" r="5.9"/><circle cx="1844.5" cy="917.1" r="5.9"/><circle cx="1853" cy="918.7" r="5.9"/><circle cx="1861.5" cy="920.7" r="5.9"/><circle cx="1870" cy="915.7" r="5.9"/><circle cx="1878.4" cy="1176.4" r="5.9"/><circle cx="1886.9" cy="1079.3" r="5.9"/><circle cx="1895.4" cy="1076.9" r="5.9"/><circle cx="1903.9" cy="1071.9" r="5.9"/><circle cx="1912.4" cy="1074.3" r="5.9"/><circle cx="1920.9" cy="1069.3" r="5.9"/><circle cx="1929.3" cy="1085.7" r="5.9"/><circle cx="1937.8" cy="937.1" r="5.9"/><circle cx="1946.3" cy="923.5" r="5.9"/><circle cx="2039.6" cy="1065.9" r="5.9"/><circle cx="2048.1" cy="1060.9" r="5.9"/><circle cx="2056.6" cy="1054.7" r="5.9"/><circle cx="2065.1" cy="907.1" r="5.9"/><circle cx="2073.6" cy="912.1" r="5.9"/><circle cx="2082" cy="915.7" r="5.9"/><circle cx="2090.5" cy="914.1" r="5.9"/><circle cx="2099" cy="912.1" r="5.9"/><circle cx="2107.5" cy="1174.4" r="5.9"/><circle cx="2116" cy="1071.3" r="5.9"/><circle cx="2124.5" cy="1069.7" r="5.9"/><circle cx="2132.9" cy="1070.3" r="5.9"/><circle cx="2141.4" cy="1068.7" r="5.9"/><circle cx="2149.9" cy="1062.3" r="5.9"/><circle cx="2158.4" cy="1062.3" r="5.9"/><circle cx="2166.9" cy="1132.8" r="5.9"/><circle cx="2175.4" cy="910.5" r="5.9"/><circle cx="2183.8" cy="909.5" r="5.9"/><circle cx="2192.3" cy="908.7" r="5.9"/><circle cx="2200.8" cy="911.5" r="5.9"/><circle cx="2209.3" cy="908.7" r="5.9"/><circle cx="2217.8" cy="1165.8" r="5.9"/><circle cx="2226.3" cy="1071.9" r="5.9"/><circle cx="2234.7" cy="1071.9" r="5.9"/><circle cx="2243.2" cy="1069.3" r="5.9"/><circle cx="2251.7" cy="1068.7" r="5.9"/><circle cx="2260.2" cy="1066.3" r="5.9"/><circle cx="2268.7" cy="907.7" r="5.9"/></g><text class="tl" x="2360.6" y="1208.5">0</text><text class="tl" x="2360.6" y="1034.7">200</text><text class="tl" x="2360.6" y="860.8">400</text><text class="let" x="2276.4" y="898.6">F</text></g>
<g id="panel-G"><path class="ax" d="M131.7 1258.8H1149.7V1606H131.7ZM199.6 1606v-10.9M199.6 1258.8v10.9M428.6 1606v-10.9M428.6 1258.8v10.9M521.9 1606v-10.9M521.9 1258.8v10.9M751 1606v-10.9M751 1258.8v10.9M844.3 1606v-10.9M844.3 1258.8v10.9M1073.3 1606v-10.9M1073.3 1258.8v10.9M131.7 1490.3h10.9M1149.7 1490.3h-10.9M131.7 1374.6h10.9M1149.7 1374.6h-10.9"/><g class="dt"><circle cx="199.6" cy="1585.5" r="5.9"/><circle cx="208" cy="1578.6" r="5.9"/><circle cx="216.5" cy="1499.5" r="5.9"/><circle cx="225" cy="1513.5" r="5.9"/><circle cx="233.5" cy="1515.8" r="5.9"/><circle cx="242" cy="1529.8" r="5.9"/><circle cx="250.4" cy="1581" r="5.9"/><circle cx="258.9" cy="1573.6" r="5.9"/><circle cx="267.4" cy="1490.5" r="5.9"/><circle cx="275.9" cy="1497.4" r="5.9"/><circle cx="284.4" cy="1506.7" r="5.9"/><circle cx="292.9" cy="1557.6" r="5.9"/><circle cx="301.3" cy="1578.6" r="5.9"/><circle cx="309.8" cy="1539.2" r="5.9"/><circle cx="318.3" cy="1539.2" r="5.9"/><circle cx="326.8" cy="1534.5" r="5.9"/><circle cx="335.3" cy="1515.8" r="5.9"/><circle cx="343.8" cy="1532.1" r="5.9"/><circle cx="352.2" cy="1566.9" r="5.9"/><circle cx="360.7" cy="1573.9" r="5.9"/><circle cx="369.2" cy="1522.8" r="5.9"/><circle cx="377.7" cy="1520.5" r="5.9"/><circle cx="386.2" cy="1536.8" r="5.9"/><circle cx="394.7" cy="1548.5" r="5.9"/><circle cx="403.1" cy="1592.3" r="5.9"/><circle cx="411.6" cy="1573.9" r="5.9"/><circle cx="420.1" cy="1525.2" r="5.9"/><circle cx="428.6" cy="1525.2" r="5.9"/><circle cx="521.9" cy="1603.9" r="5.9"/><circle cx="530.4" cy="1552.9" r="5.9"/><circle cx="538.9" cy="1562.3" r="5.9"/><circle cx="547.4" cy="1534.2" r="5.9"/><circle cx="555.8" cy="1531.8" r="5.9"/><circle cx="564.3" cy="1529.8" r="5.9"/><circle cx="572.8" cy="1590.2" r="5.9"/><circle cx="581.3" cy="1546.1" r="5.9"/><circle cx="589.8" cy="1522.8" r="5.9"/><circle cx="598.3" cy="1515.8" r="5.9"/><circle cx="606.7" cy="1520.5" r="5.9"/><circle cx="615.2" cy="1532.1" r="5.9"/><circle cx="623.7" cy="1555.2" r="5.9"/><circle cx="632.2" cy="1592.3" r="5.9"/><circle cx="640.7" cy="1515.8" r="5.9"/><circle cx="649.2" cy="1511.4" r="5.9"/><circle cx="657.6" cy="1513.5" r="5.9"/><circle cx="666.1" cy="1527.4" r="5.9"/><circle cx="674.6" cy="1550.5" r="5.9"/><circle cx="683.1" cy="1601.5" r="5.9"/><circle cx="691.6" cy="1536.8" r="5.9"/><circle cx="700.1" cy="1499.5" r="5.9"/><circle cx="708.5" cy="1506.7" r="5.9"/><circle cx="717" cy="1541.4" r="5.9"/><circle cx="725.5" cy="1550.5" r="5.9"/><circle cx="734" cy="1550.5" r="5.9"/><circle cx="742.5" cy="1543.6" r="5.9"/><circle cx="751" cy="1509.1" r="5.9"/><circle cx="844.3" cy="1494.9" r="5.9"/><circle cx="852.8" cy="1527.4" r="5.9"/><circle cx="861.2" cy="1585.3" r="5.9"/><circle cx="869.7" cy="1518.2" r="5.9"/><circle cx="878.2" cy="1499.6" r="5.9"/><circle cx="886.7" cy="1511.2" r="5.9"/><circle cx="895.2" cy="1518.2" r="5.9"/><circle cx="903.7" cy="1543.8" r="5.9"/><circle cx="912.1" cy="1594.7" r="5.9"/><circle cx="920.6" cy="1508.7" r="5.9"/><circle cx="929.1" cy="1460.2" r="5.9"/><circle cx="937.6" cy="1460.2" r="5.9"/><circle cx="946.1" cy="1481.2" r="5.9"/><circle cx="954.6" cy="1467.3" r="5.9"/><circle cx="963" cy="1478.7" r="5.9"/><circle cx="971.5" cy="1578.3" r="5.9"/><circle cx="980" cy="1441.8" r="5.9"/><circle cx="988.5" cy="1460.2" r="5.9"/><circle cx="997" cy="1485.7" r="5.9"/><circle cx="1005.5" cy="1502.1" r="5.9"/><circle cx="1013.9" cy="1527.4" r="5.9"/><circle cx="1022.4" cy="1599.2" r="5.9"/><circle cx="1030.9" cy="1451.2" r="5.9"/><circle cx="1039.4" cy="1416.5" r="5.9"/><circle cx="1047.9" cy="1460.3" r="5.9"/><circle cx="1056.4" cy="1506.6" r="5.9"/><circle cx="1064.8" cy="1546.1" r="5.9"/><circle cx="1073.3" cy="1580.8" r="5.9"/></g><polyline class="ln" points="199.6,1564.1 208,1541.8 216.5,1466 225,1469.1 233.5,1541.2 242,1596.6 250.4,1570.8 258.9,1544.9 267.4,1519.2 275.9,1507.8 284.4,1503.1 292.9,1506.5 301.3,1533.2 309.8,1594.6 318.3,1521.8 326.8,1493.1 335.3,1546.5 343.8,1599.9 352.2,1592.6 360.7,1591.6 369.2,1563.9 377.7,1534.5 386.2,1515.2 394.7,1507.8 403.1,1527.2 411.6,1589.9 420.1,1533.2 428.6,1479.8"/><polyline class="ln" points="521.9,1563.2 530.4,1581.2 538.9,1500.5 547.4,1490.1 555.8,1544.5 564.3,1598.2 572.8,1575.9 581.3,1550.5 589.8,1523.8 598.3,1501.1 606.7,1486.2 615.2,1481.1 623.7,1503.8 632.2,1575.9 640.7,1521.4 649.2,1467.1 657.6,1478.4 666.1,1531.8 674.6,1583.2 683.1,1583.9 691.6,1537.2 700.1,1501.8 708.5,1490.2 717,1493.8 725.5,1509.1 734,1538.5 742.5,1597.9 751,1484.1"/><polyline class="ln" points="844.3,1474.9 852.8,1473.7 861.2,1494 869.7,1562.5 878.2,1427 886.7,1438.1 895.2,1512.4 903.7,1585 912.1,1501.6 920.6,1479 929.1,1462.3 937.6,1444.8 946.1,1429.8 954.6,1417.3 963,1426.5 971.5,1520.7 980,1434.8 988.5,1427.8 997,1431.5 1005.5,1504.9 1013.9,1584.1 1022.4,1493.2 1030.9,1454.8 1039.4,1444.5 1047.9,1455 1056.4,1465.7 1064.8,1450.7 1073.3,1484.9"/><text class="tl" x="114.4" y="1622.5" text-anchor="end">0</text><text class="tl" x="114.4" y="1506.8" text-anchor="end">0.5</text><text class="tl" x="114.4" y="1391.1" text-anchor="end">1</text><text class="tl" x="114.4" y="1275.3" text-anchor="end">1.5</text><text class="let" x="1081.1" y="1312.3">G</text></g>
<g id="panel-H"><path class="ax" d="M1327 1258.8H2345.1V1606H1327ZM1394.9 1606v-10.9M1394.9 1258.8v10.9M1623.9 1606v-10.9M1623.9 1258.8v10.9M1717.3 1606v-10.9M1717.3 1258.8v10.9M1946.3 1606v-10.9M1946.3 1258.8v10.9M2039.6 1606v-10.9M2039.6 1258.8v10.9M2268.7 1606v-10.9M2268.7 1258.8v10.9M1327 1432.4h10.9M2345.1 1432.4h-10.9"/><polyline class="ln" points="1394.9,1470.3 1403.4,1334.7 1411.9,1329.1 1420.3,1328.5 1428.8,1329.1 1437.3,1507.3 1445.8,1493.3 1454.3,1492.3 1462.8,1492.9 1471.2,1490.9 1479.7,1488.3 1488.2,1485.9 1496.7,1483.7 1505.2,1459.2 1513.7,1333.1 1522.1,1329.1 1530.6,1327.7 1539.1,1541.3 1547.6,1506.7 1556.1,1501.3 1564.6,1493.7 1573,1491.3 1581.5,1488.9 1590,1486.7 1598.5,1484.3 1607,1468.7 1615.5,1336.1 1623.9,1332.1"/><polyline class="ln" points="1717.3,1480.7 1725.7,1343.1 1734.2,1332.1 1742.7,1329.7 1751.2,1328.1 1759.7,1310.1 1768.2,1494.7 1776.6,1493.3 1785.1,1491.3 1793.6,1489.3 1802.1,1486.7 1810.6,1484.3 1819.1,1481.3 1827.5,1472.9 1836,1333.1 1844.5,1328.7 1853,1328.5 1861.5,1328.1 1870,1327.7 1878.4,1491.3 1886.9,1490.7 1895.4,1491.7 1903.9,1490.3 1912.4,1487.9 1920.9,1485.3 1929.3,1482.7 1937.8,1370.1 1946.3,1334.1"/><polyline class="ln" points="2039.6,1485.3 2048.1,1483.3 2056.6,1478.3 2065.1,1339.7 2073.6,1329.1 2082,1329.7 2090.5,1330.5 2099,1487.3 2107.5,1491.3 2116,1492.3 2124.5,1489.3 2132.9,1486.3 2141.4,1483.3 2149.9,1480.9 2158.4,1479.7 2166.9,1478.9 2175.4,1325.1 2183.8,1325.7 2192.3,1329.7 2200.8,1331.7 2209.3,1476.7 2217.8,1489.9 2226.3,1492.3 2234.7,1489.3 2243.2,1486.3 2251.7,1484.3 2260.2,1482.7 2268.7,1480.9"/><g class="dt"><circle cx="1394.9" cy="1474.9" r="5.9"/><circle cx="1403.4" cy="1343.1" r="5.9"/><circle cx="1411.9" cy="1348.7" r="5.9"/><circle cx="1420.3" cy="1336.1" r="5.9"/><circle cx="1428.8" cy="1324.1" r="5.9"/><circle cx="1437.3" cy="1322.1" r="5.9"/><circle cx="1445.8" cy="1313.5" r="5.9"/><circle cx="1454.3" cy="1519.3" r="5.9"/><circle cx="1462.8" cy="1506.3" r="5.9"/><circle cx="1471.2" cy="1508.3" r="5.9"/><circle cx="1479.7" cy="1505.9" r="5.9"/><circle cx="1488.2" cy="1504.7" r="5.9"/><circle cx="1496.7" cy="1358.7" r="5.9"/><circle cx="1505.2" cy="1338.1" r="5.9"/><circle cx="1513.7" cy="1327.7" r="5.9"/><circle cx="1522.1" cy="1328.5" r="5.9"/><circle cx="1530.6" cy="1319.5" r="5.9"/><circle cx="1539.1" cy="1331.1" r="5.9"/><circle cx="1547.6" cy="1319.7" r="5.9"/><circle cx="1556.1" cy="1508.3" r="5.9"/><circle cx="1564.6" cy="1497.3" r="5.9"/><circle cx="1573" cy="1504.7" r="5.9"/><circle cx="1581.5" cy="1505.9" r="5.9"/><circle cx="1590" cy="1509.9" r="5.9"/><circle cx="1598.5" cy="1476.7" r="5.9"/><circle cx="1607" cy="1343.1" r="5.9"/><circle cx="1615.5" cy="1332.7" r="5.9"/><circle cx="1623.9" cy="1331.1" r="5.9"/><circle cx="1717.3" cy="1341.1" r="5.9"/><circle cx="1725.7" cy="1325.7" r="5.9"/><circle cx="1734.2" cy="1326.7" r="5.9"/><circle cx="1742.7" cy="1312.5" r="5.9"/><circle cx="1751.2" cy="1323.5" r="5.9"/><circle cx="1759.7" cy="1305.1" r="5.9"/><circle cx="1768.2" cy="1514.3" r="5.9"/><circle cx="1776.6" cy="1483.9" r="5.9"/><circle cx="1785.1" cy="1490.7" r="5.9"/><circle cx="1793.6" cy="1469.7" r="5.9"/><circle cx="1802.1" cy="1481.3" r="5.9"/><circle cx="1810.6" cy="1495.3" r="5.9"/><circle cx="1819.1" cy="1482.9" r="5.9"/><circle cx="1827.5" cy="1604.4" r="5.9"/><circle cx="1836" cy="1318.1" r="5.9"/><circle cx="1844.5" cy="1321.1" r="5.9"/><circle cx="1853" cy="1320.7" r="5.9"/><circle cx="1861.5" cy="1318.7" r="5.9"/><circle cx="1870" cy="1331.1" r="5.9"/><circle cx="1878.4" cy="1590.4" r="5.9"/><circle cx="1886.9" cy="1495.9" r="5.9"/><circle cx="1895.4" cy="1498.7" r="5.9"/><circle cx="1903.9" cy="1488.3" r="5.9"/><circle cx="1912.4" cy="1479.3" r="5.9"/><circle cx="1920.9" cy="1494.3" r="5.9"/><circle cx="1929.3" cy="1396.2" r="5.9"/><circle cx="1937.8" cy="1364.1" r="5.9"/><circle cx="1946.3" cy="1332.9" r="5.9"/><circle cx="2039.6" cy="1491.3" r="5.9"/><circle cx="2048.1" cy="1488.3" r="5.9"/><circle cx="2056.6" cy="1480.3" r="5.9"/><circle cx="2065.1" cy="1321.5" r="5.9"/><circle cx="2073.6" cy="1312.7" r="5.9"/><circle cx="2082" cy="1318.1" r="5.9"/><circle cx="2090.5" cy="1314.5" r="5.9"/><circle cx="2099" cy="1322.1" r="5.9"/><circle cx="2107.5" cy="1525.3" r="5.9"/><circle cx="2116" cy="1491.3" r="5.9"/><circle cx="2124.5" cy="1495.9" r="5.9"/><circle cx="2132.9" cy="1489.9" r="5.9"/><circle cx="2141.4" cy="1493.3" r="5.9"/><circle cx="2149.9" cy="1497.9" r="5.9"/><circle cx="2158.4" cy="1500.3" r="5.9"/><circle cx="2166.9" cy="1550.8" r="5.9"/><circle cx="2175.4" cy="1319.7" r="5.9"/><circle cx="2183.8" cy="1311.1" r="5.9"/><circle cx="2192.3" cy="1322.5" r="5.9"/><circle cx="2200.8" cy="1321.5" r="5.9"/><circle cx="2209.3" cy="1317.1" r="5.9"/><circle cx="2217.8" cy="1451.6" r="5.9"/><circle cx="2226.3" cy="1490.3" r="5.9"/><circle cx="2234.7" cy="1491.7" r="5.9"/><circle cx="2243.2" cy="1492.3" r="5.9"/><circle cx="2251.7" cy="1490.3" r="5.9"/><circle cx="2260.2" cy="1493.3" r="5.9"/><circle cx="2268.7" cy="1312.5" r="5.9"/></g><text class="tl" x="2360.6" y="1621.7">0</text><text class="tl" x="2360.6" y="1448.1">200</text><text class="tl" x="2360.6" y="1274.5">400</text><text class="let" x="2276.4" y="1312.3">H</text></g>
<g id="panel-I"><path class="ax" d="M131.7 1672.1H1149.7V2019.8H131.7ZM199.6 2019.8v-10.9M199.6 1672.1v10.9M428.6 2019.8v-10.9M428.6 1672.1v10.9M521.9 2019.8v-10.9M521.9 1672.1v10.9M751 2019.8v-10.9M751 1672.1v10.9M844.3 2019.8v-10.9M844.3 1672.1v10.9M1073.3 2019.8v-10.9M1073.3 1672.1v10.9M131.7 1903.9h10.9M1149.7 1903.9h-10.9M131.7 1788h10.9M1149.7 1788h-10.9"/><g class="dt"><circle cx="199.6" cy="1982.8" r="5.9"/><circle cx="208" cy="1924.9" r="5.9"/><circle cx="216.5" cy="1830" r="5.9"/><circle cx="225" cy="1897.1" r="5.9"/><circle cx="233.5" cy="1901.8" r="5.9"/><circle cx="242" cy="1927.1" r="5.9"/><circle cx="250.4" cy="1968.8" r="5.9"/><circle cx="258.9" cy="1968.8" r="5.9"/><circle cx="267.4" cy="1927.1" r="5.9"/><circle cx="275.9" cy="1899.4" r="5.9"/><circle cx="284.4" cy="1894.8" r="5.9"/><circle cx="292.9" cy="1917.8" r="5.9"/><circle cx="301.3" cy="1966.5" r="5.9"/><circle cx="309.8" cy="1978.1" r="5.9"/><circle cx="318.3" cy="1950.1" r="5.9"/><circle cx="326.8" cy="1945.8" r="5.9"/><circle cx="335.3" cy="1934.1" r="5.9"/><circle cx="343.8" cy="1938.8" r="5.9"/><circle cx="352.2" cy="1966.5" r="5.9"/><circle cx="360.7" cy="1996.6" r="5.9"/><circle cx="369.2" cy="1948.1" r="5.9"/><circle cx="377.7" cy="1917.8" r="5.9"/><circle cx="386.2" cy="1913.1" r="5.9"/><circle cx="394.7" cy="1929.4" r="5.9"/><circle cx="403.1" cy="1941.2" r="5.9"/><circle cx="411.6" cy="1992.2" r="5.9"/><circle cx="420.1" cy="1954.9" r="5.9"/><circle cx="428.6" cy="1931.8" r="5.9"/><circle cx="521.9" cy="2003.6" r="5.9"/><circle cx="530.4" cy="1992.2" r="5.9"/><circle cx="538.9" cy="1961.9" r="5.9"/><circle cx="547.4" cy="1922.5" r="5.9"/><circle cx="555.8" cy="1920.2" r="5.9"/><circle cx="564.3" cy="1934.1" r="5.9"/><circle cx="572.8" cy="1989.9" r="5.9"/><circle cx="581.3" cy="1968.8" r="5.9"/><circle cx="589.8" cy="1940.9" r="5.9"/><circle cx="598.3" cy="1913.1" r="5.9"/><circle cx="606.7" cy="1890" r="5.9"/><circle cx="615.2" cy="1892.4" r="5.9"/><circle cx="623.7" cy="1931.8" r="5.9"/><circle cx="632.2" cy="1973.9" r="5.9"/><circle cx="640.7" cy="1961.9" r="5.9"/><circle cx="649.2" cy="1910.9" r="5.9"/><circle cx="657.6" cy="1890" r="5.9"/><circle cx="666.1" cy="1906.2" r="5.9"/><circle cx="674.6" cy="1938.8" r="5.9"/><circle cx="683.1" cy="1984.9" r="5.9"/><circle cx="691.6" cy="1971.2" r="5.9"/><circle cx="700.1" cy="1934.1" r="5.9"/><circle cx="708.5" cy="1913.1" r="5.9"/><circle cx="717" cy="1917.8" r="5.9"/><circle cx="725.5" cy="1938.8" r="5.9"/><circle cx="734" cy="1948.1" r="5.9"/><circle cx="742.5" cy="1975.9" r="5.9"/><circle cx="751" cy="1950.1" r="5.9"/><circle cx="844.3" cy="1862.2" r="5.9"/><circle cx="852.8" cy="1903.9" r="5.9"/><circle cx="861.2" cy="1961.8" r="5.9"/><circle cx="869.7" cy="1945.6" r="5.9"/><circle cx="878.2" cy="1876" r="5.9"/><circle cx="886.7" cy="1862.2" r="5.9"/><circle cx="895.2" cy="1903.9" r="5.9"/><circle cx="903.7" cy="1941.1" r="5.9"/><circle cx="912.1" cy="1980.6" r="5.9"/><circle cx="920.6" cy="1929.4" r="5.9"/><circle cx="929.1" cy="1876" r="5.9"/><circle cx="937.6" cy="1829.6" r="5.9"/><circle cx="946.1" cy="1825.1" r="5.9"/><circle cx="954.6" cy="1850.8" r="5.9"/><circle cx="963" cy="1936.4" r="5.9"/><circle cx="971.5" cy="1959.4" r="5.9"/><circle cx="980" cy="1855.5" r="5.9"/><circle cx="988.5" cy="1811.3" r="5.9"/><circle cx="997" cy="1815.9" r="5.9"/><circle cx="1005.5" cy="1850.8" r="5.9"/><circle cx="1013.9" cy="1915.6" r="5.9"/><circle cx="1022.4" cy="1968.9" r="5.9"/><circle cx="1030.9" cy="1908.5" r="5.9"/><circle cx="1039.4" cy="1841.5" r="5.9"/><circle cx="1047.9" cy="1825.1" r="5.9"/><circle cx="1056.4" cy="1860" r="5.9"/><circle cx="1064.8" cy="1920.2" r="5.9"/><circle cx="1073.3" cy="1978.1" r="5.9"/></g><polyline class="ln" points="199.6,1992.3 208,1979.2 216.5,1921.1 225,1907.8 233.5,1920.5 242,1949.8 250.4,1987.2 258.9,2009.9 267.4,1975.9 275.9,1943.2 284.4,1925.1 292.9,1931.8 301.3,1961.9 309.8,2000.6 318.3,1973.9 326.8,1953.6 335.3,1958.2 343.8,1975.2 352.2,1995.9 360.7,2007.9 369.2,1996.6 377.7,1965.9 386.2,1938.9 394.7,1937.8 403.1,1961.9 411.6,2005.5 420.1,1975.2 428.6,1932.5"/><polyline class="ln" points="521.9,1981.2 530.4,1998.6 538.9,1950.5 547.4,1928.8 555.8,1934.5 564.3,1961.9 572.8,1999.2 581.3,1999.5 589.8,1960.7 598.3,1921.8 606.7,1901.8 615.2,1909.1 623.7,1941.8 632.2,1992.8 640.7,1965.9 649.2,1919.8 657.6,1905.1 666.1,1908.5 674.6,1937.8 683.1,1979.2 691.6,1996.8 700.1,1951.2 708.5,1917.8 717,1912.7 725.5,1928.5 734,1961.9 742.5,1994.6 751,1939.8"/><polyline class="ln" points="844.3,1871.3 852.8,1888.5 861.2,1949.8 869.7,1963.9 878.2,1893.9 886.7,1870.8 895.2,1888.9 903.7,1943.9 912.1,1990.3 920.6,1930.6 929.1,1876.3 937.6,1842.1 946.1,1834.6 954.6,1858.8 963,1928.9 971.5,1965.9 980,1868.8 988.5,1828.8 997,1828.8 1005.5,1854.6 1013.9,1923.9 1022.4,1992.3 1030.9,1915.6 1039.4,1867.2 1047.9,1853.8 1056.4,1848.3 1064.8,1876.3 1073.3,1959.3"/><text class="tl" x="114.4" y="2036.3" text-anchor="end">0</text><text class="tl" x="114.4" y="1920.4" text-anchor="end">0.5</text><text class="tl" x="114.4" y="1804.5" text-anchor="end">1</text><text class="tl" x="114.4" y="1688.6" text-anchor="end">1.5</text><text class="let" x="1081.1" y="1725.6">I</text><text class="tl" text-anchor="end" transform="translate(219.9 2072.8) rotate(-30)">2020/1/2-7</text><text class="tl" text-anchor="end" transform="translate(448.9 2072.8) rotate(-30)">2020/1/3-10</text><text class="tl" text-anchor="end" transform="translate(542.2 2072.8) rotate(-30)">2020/1/6-11</text><text class="tl" text-anchor="end" transform="translate(771.3 2072.8) rotate(-30)">2020/1/7-14</text><text class="tl" text-anchor="end" transform="translate(864.6 2072.8) rotate(-30)">2020/1/9-12</text><text class="tl" text-anchor="end" transform="translate(1093.6 2072.8) rotate(-30)">2020/1/10-15</text></g>
<g id="panel-J"><path class="ax" d="M1327 1672.1H2345.1V2019.8H1327ZM1394.9 2019.8v-10.9M1394.9 1672.1v10.9M1623.9 2019.8v-10.9M1623.9 1672.1v10.9M1717.3 2019.8v-10.9M1717.3 1672.1v10.9M1946.3 2019.8v-10.9M1946.3 1672.1v10.9M2039.6 2019.8v-10.9M2039.6 1672.1v10.9M2268.7 2019.8v-10.9M2268.7 1672.1v10.9M1327 1845.9h10.9M2345.1 1845.9h-10.9"/><polyline class="ln" points="1394.9,1908.7 1403.4,1772.7 1411.9,1767.7 1420.3,1765.1 1428.8,1763.7 1437.3,1761.7 1445.8,1759.1 1454.3,1974 1462.8,1936.3 1471.2,1926.3 1479.7,1921.3 1488.2,1916.3 1496.7,1907.9 1505.2,1865.2 1513.7,1780.5 1522.1,1773.1 1530.6,1770.7 1539.1,1767.7 1547.6,1759.7 1556.1,1708.5 1564.6,1955.3 1573,1934.3 1581.5,1926.3 1590,1923.3 1598.5,1920.3 1607,1907.9 1615.5,1770.1 1623.9,1767.7"/><polyline class="ln" points="1717.3,1908.3 1725.7,1804.2 1734.2,1775.1 1742.7,1771.1 1751.2,1767.1 1759.7,1763.1 1768.2,1752.1 1776.6,1942.3 1785.1,1934.3 1793.6,1927.3 1802.1,1921.3 1810.6,1916.3 1819.1,1910.9 1827.5,1879.3 1836,1782.1 1844.5,1771.1 1853,1766.1 1861.5,1762.1 1870,1757.7 1878.4,1745.1 1886.9,1965.4 1895.4,1934.3 1903.9,1926.3 1912.4,1923.3 1920.9,1917.3 1929.3,1905.3 1937.8,1816.2 1946.3,1781.1"/><polyline class="ln" points="2039.6,1917.9 2048.1,1910.3 2056.6,1896.3 2065.1,1794.2 2073.6,1772.1 2082,1764.1 2090.5,1756.1 2099,1743.1 2107.5,1971.4 2116,1931.3 2124.5,1926.3 2132.9,1922.3 2141.4,1918.3 2149.9,1914.3 2158.4,1902.3 2166.9,1804.2 2175.4,1777.1 2183.8,1770.1 2192.3,1762.1 2200.8,1756.1 2209.3,1747.1 2217.8,1977.4 2226.3,1932.3 2234.7,1924.3 2243.2,1922.3 2251.7,1918.3 2260.2,1909.3 2268.7,1883.3"/><g class="dt"><circle cx="1394.9" cy="1827.8" r="5.9"/><circle cx="1403.4" cy="1797.2" r="5.9"/><circle cx="1411.9" cy="1786.1" r="5.9"/><circle cx="1420.3" cy="1768.1" r="5.9"/><circle cx="1428.8" cy="1768.1" r="5.9"/><circle cx="1437.3" cy="1763.7" r="5.9"/><circle cx="1445.8" cy="1743.7" r="5.9"/><circle cx="1454.3" cy="1947.9" r="5.9"/><circle cx="1462.8" cy="1932.9" r="5.9"/><circle cx="1471.2" cy="1924.3" r="5.9"/><circle cx="1479.7" cy="1927.9" r="5.9"/><circle cx="1488.2" cy="1927.9" r="5.9"/><circle cx="1496.7" cy="1911.3" r="5.9"/><circle cx="1505.2" cy="1841.2" r="5.9"/><circle cx="1513.7" cy="1804.8" r="5.9"/><circle cx="1522.1" cy="1790.7" r="5.9"/><circle cx="1530.6" cy="1779.5" r="5.9"/><circle cx="1539.1" cy="1776.7" r="5.9"/><circle cx="1547.6" cy="1755.1" r="5.9"/><circle cx="1556.1" cy="1951.9" r="5.9"/><circle cx="1564.6" cy="1932.9" r="5.9"/><circle cx="1573" cy="1927.7" r="5.9"/><circle cx="1581.5" cy="1928.3" r="5.9"/><circle cx="1590" cy="1932.9" r="5.9"/><circle cx="1598.5" cy="1919.3" r="5.9"/><circle cx="1607" cy="1870.6" r="5.9"/><circle cx="1615.5" cy="1782.7" r="5.9"/><circle cx="1623.9" cy="1781.1" r="5.9"/><circle cx="1717.3" cy="1890.3" r="5.9"/><circle cx="1725.7" cy="1810.6" r="5.9"/><circle cx="1734.2" cy="1770.1" r="5.9"/><circle cx="1742.7" cy="1766.7" r="5.9"/><circle cx="1751.2" cy="1758.1" r="5.9"/><circle cx="1759.7" cy="1752.5" r="5.9"/><circle cx="1768.2" cy="1719.5" r="5.9"/><circle cx="1776.6" cy="1944.9" r="5.9"/><circle cx="1785.1" cy="1933.9" r="5.9"/><circle cx="1793.6" cy="1929.3" r="5.9"/><circle cx="1802.1" cy="1922.3" r="5.9"/><circle cx="1810.6" cy="1924.3" r="5.9"/><circle cx="1819.1" cy="1920.9" r="5.9"/><circle cx="1827.5" cy="1873.8" r="5.9"/><circle cx="1836" cy="1786.5" r="5.9"/><circle cx="1844.5" cy="1761.1" r="5.9"/><circle cx="1853" cy="1762.7" r="5.9"/><circle cx="1861.5" cy="1750.7" r="5.9"/><circle cx="1870" cy="1736.1" r="5.9"/><circle cx="1878.4" cy="1714.1" r="5.9"/><circle cx="1886.9" cy="1944.3" r="5.9"/><circle cx="1895.4" cy="1931.3" r="5.9"/><circle cx="1903.9" cy="1930.3" r="5.9"/><circle cx="1912.4" cy="1932.3" r="5.9"/><circle cx="1920.9" cy="1917.9" r="5.9"/><circle cx="1929.3" cy="1898.3" r="5.9"/><circle cx="1937.8" cy="1814.2" r="5.9"/><circle cx="1946.3" cy="1779.3" r="5.9"/><circle cx="2039.6" cy="1925.3" r="5.9"/><circle cx="2048.1" cy="1919.3" r="5.9"/><circle cx="2056.6" cy="1893.9" r="5.9"/><circle cx="2065.1" cy="1790.7" r="5.9"/><circle cx="2073.6" cy="1765.5" r="5.9"/><circle cx="2082" cy="1757.5" r="5.9"/><circle cx="2090.5" cy="1754.1" r="5.9"/><circle cx="2099" cy="1738.5" r="5.9"/><circle cx="2107.5" cy="2002.4" r="5.9"/><circle cx="2116" cy="1942.9" r="5.9"/><circle cx="2124.5" cy="1931.3" r="5.9"/><circle cx="2132.9" cy="1927.7" r="5.9"/><circle cx="2141.4" cy="1925.9" r="5.9"/><circle cx="2149.9" cy="1926.3" r="5.9"/><circle cx="2158.4" cy="1916.9" r="5.9"/><circle cx="2166.9" cy="1809.8" r="5.9"/><circle cx="2175.4" cy="1773.1" r="5.9"/><circle cx="2183.8" cy="1769.7" r="5.9"/><circle cx="2192.3" cy="1758.5" r="5.9"/><circle cx="2200.8" cy="1754.1" r="5.9"/><circle cx="2209.3" cy="1742.7" r="5.9"/><circle cx="2217.8" cy="2008.4" r="5.9"/><circle cx="2226.3" cy="1929.3" r="5.9"/><circle cx="2234.7" cy="1926.9" r="5.9"/><circle cx="2243.2" cy="1925.3" r="5.9"/><circle cx="2251.7" cy="1924.3" r="5.9"/><circle cx="2260.2" cy="1912.3" r="5.9"/><circle cx="2268.7" cy="1867.8" r="5.9"/></g><text class="tl" x="2360.6" y="2035.5">0</text><text class="tl" x="2360.6" y="1861.6">200</text><text class="tl" x="2360.6" y="1687.8">400</text><text class="let" x="2276.4" y="1725.6">J</text><text class="tl" text-anchor="end" transform="translate(1415.2 2072.8) rotate(-30)">2020/1/2-7</text><text class="tl" text-anchor="end" transform="translate(1644.2 2072.8) rotate(-30)">2020/1/3-10</text><text class="tl" text-anchor="end" transform="translate(1737.6 2072.8) rotate(-30)">2020/1/6-11</text><text class="tl" text-anchor="end" transform="translate(1966.6 2072.8) rotate(-30)">2020/1/7-14</text><text class="tl" text-anchor="end" transform="translate(2059.9 2072.8) rotate(-30)">2020/1/9-12</text><text class="tl" text-anchor="end" transform="translate(2289 2072.8) rotate(-30)">2020/1/10-15</text></g>
<text class="lab" text-anchor="middle" transform="translate(36.7 1019.3) rotate(-90)">speed(m/s)</text>
<text class="lab" text-anchor="middle" transform="translate(2489 1019.5) rotate(-90)">direction(°)</text>
<g id="legend"><rect x="160.9" y="44.2" width="307" height="114.5" fill="#fff" stroke="#0d0d0d" stroke-width="1.8"/>
<circle class="dt" cx="224.5" cy="75.6" r="5.9"/><path class="ln" d="M171.6 127.9H277"/>
<text class="leg" x="286" y="90">Measured</text><text class="leg" x="286" y="142.5">Simulated</text></g>
</svg></body></html>
